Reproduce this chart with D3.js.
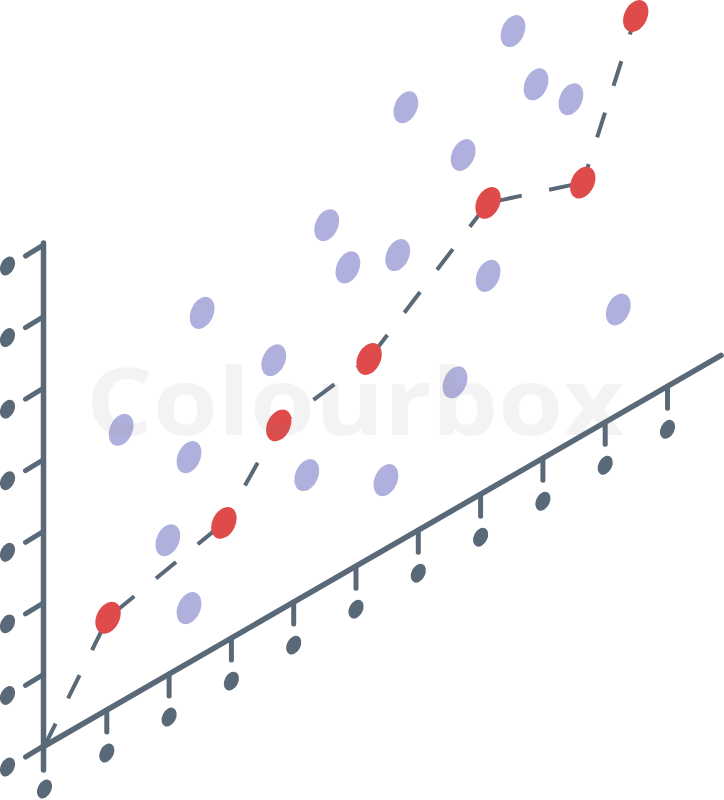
<!DOCTYPE html>
<html>
<head>
<meta charset="utf-8">
<script src="https://cdn.jsdelivr.net/npm/d3@7"></script>
<style>
  html, body { margin: 0; padding: 0; background: #fff; }
  svg { display: block; }
</style>
</head>
<body>
<div id="chart"></div>
<script>
// Data, in axis units (u = along the floor axis, v = height)
let redU = [0, 1.02, 2.88, 3.76, 5.21, 7.12, 8.64, 9.49];
let redV = [0, 1.28, 1.67, 2.59, 2.79, 4.01, 3.53, 5.43];

let dotU = [7.52, 7.89, 8.45, 5.80, 6.72, 4.53, 4.87, 5.67, 2.53, 3.68, 7.12, 9.21, 6.59, 1.23, 2.32, 4.21, 5.48, 1.98, 2.32];
let dotV = [6.21, 5.28, 4.79, 6.01, 4.88, 5.00, 4.24, 4.01, 4.78, 3.54, 2.99, 1.47, 1.77, 3.80, 2.87, 1.67, 0.96, 1.88, 0.76];

let xTicks = [0, 1, 2, 3, 4, 5, 6, 7, 8, 9, 10];
let yTicks = [0, 1, 2, 3, 4, 5, 6, 7];

let watermark = "Colourbox";

const width = 724, height = 800;
const axisColor = "#5a6978";
const redColor = "#df4a4a";
const purpleColor = "#b0b0de";
const dash = 26, gap = 28;

// Isometric scales: floor axis climbs at 30 degrees
let xScale = d3.scaleLinear().domain([0, 10]).range([44.5, 667.5]);
let yScale = d3.scaleLinear().domain([0, 7]).range([746, 245]);
let skew = d3.scaleLinear().domain([0, 10]).range([0, -359.7]);

function project(u, v) {
  return [xScale(u), yScale(v) + skew(u)];
}

let svg = d3.select("#chart")
  .append("svg")
  .attr("width", width)
  .attr("height", height);

// AXES
let axes = svg.append("g")
  .attr("stroke", axisColor)
  .attr("stroke-linecap", "round")
  .attr("fill", "none");

// vertical axis, running past the origin as its own tick
let axisTop = project(0, 7);
let origin = project(0, 0);
axes.append("line")
  .attr("x1", axisTop[0] - 1).attr("y1", axisTop[1] - 2)
  .attr("x2", origin[0] - 1).attr("y2", origin[1] + 24)
  .attr("stroke-width", 5.5);

// floor axis
let axisEnd = project(10.86, 0);
axes.append("line")
  .attr("x1", origin[0]).attr("y1", origin[1])
  .attr("x2", axisEnd[0]).attr("y2", axisEnd[1])
  .attr("stroke-width", 5.5);

// vertical ticks point to the front-left
axes.selectAll(".ytick")
  .data(yTicks)
  .join("line")
  .attr("class", "ytick")
  .attr("x1", d => project(0, d)[0] - 1)
  .attr("y1", d => project(0, d)[1])
  .attr("x2", d => project(0, d)[0] - 19)
  .attr("y2", d => project(0, d)[1] + 11)
  .attr("stroke-width", 5);

// floor ticks hang straight down
axes.selectAll(".xtick")
  .data(xTicks.slice(1))
  .join("line")
  .attr("class", "xtick")
  .attr("x1", d => project(d, 0)[0])
  .attr("y1", d => project(d, 0)[1])
  .attr("x2", d => project(d, 0)[0])
  .attr("y2", d => project(d, 0)[1] + 22)
  .attr("stroke-width", 5);

// tick label dots
let tickDots = yTicks.map(d => [project(0, d)[0] - 37, project(0, d)[1] + 21])
  .concat(xTicks.map(d => [project(d, 0)[0], project(d, 0)[1] + 43]));

svg.selectAll(".tickdot")
  .data(tickDots)
  .join("ellipse")
  .attr("class", "tickdot")
  .attr("rx", 6.8)
  .attr("ry", 10)
  .attr("fill", axisColor)
  .attr("transform", d => `translate(${d[0]},${d[1]}) rotate(27)`);

// DASHED TREND LINE: one dashed piece per pair of red points,
// with the dash pattern centred so each red dot gets a dash stub
function dashOffset(len, r0, r1) {
  let mid = (r0 + len - r1) / 2;
  let options = [((13 - mid) % 54 + 54) % 54, ((-(mid + 14)) % 54 + 54) % 54];
  let cover = off => {
    let a = (r0 + off) % 54, b = (len - r1 + off) % 54;
    return (a < dash ? dash - a : 0) + (b < dash ? b : 0);
  };
  return cover(options[0]) >= cover(options[1]) ? options[0] : options[1];
}

let redPts = redU.map((u, i) => project(u, redV[i]));
let segments = d3.pairs(redPts);

svg.selectAll(".trend")
  .data(segments)
  .join("line")
  .attr("class", "trend")
  .attr("x1", d => d[0][0]).attr("y1", d => d[0][1])
  .attr("x2", d => d[1][0]).attr("y2", d => d[1][1])
  .attr("stroke", axisColor)
  .attr("stroke-width", 4)
  .attr("stroke-dasharray", `${dash},${gap}`)
  .attr("stroke-dashoffset", (d, i) => {
    let len = Math.hypot(d[1][0] - d[0][0], d[1][1] - d[0][1]);
    return dashOffset(len, i === 0 ? 4 : 15, 15);
  });

// SCATTER DOTS
svg.selectAll(".dot")
  .data(dotU.map((u, i) => project(u, dotV[i])))
  .join("ellipse")
  .attr("class", "dot")
  .attr("rx", 11.3)
  .attr("ry", 16.8)
  .attr("fill", purpleColor)
  .attr("transform", d => `translate(${d[0]},${d[1]}) rotate(24)`);

svg.selectAll(".red")
  .data(redPts.slice(1))
  .join("ellipse")
  .attr("class", "red")
  .attr("rx", 11.5)
  .attr("ry", 16.8)
  .attr("fill", redColor)
  .attr("transform", d => `translate(${d[0]},${d[1]}) rotate(26)`);

// faint watermark over everything
svg.append("text")
  .attr("x", 86)
  .attr("y", 435)
  .attr("textLength", 538)
  .attr("lengthAdjust", "spacingAndGlyphs")
  .attr("font-family", "Open Sans, sans-serif")
  .attr("font-weight", 700)
  .attr("font-size", 94)
  .attr("fill", "#8a8a8a")
  .attr("fill-opacity", 0.1)
  .text(watermark);
</script>
</body>
</html>
